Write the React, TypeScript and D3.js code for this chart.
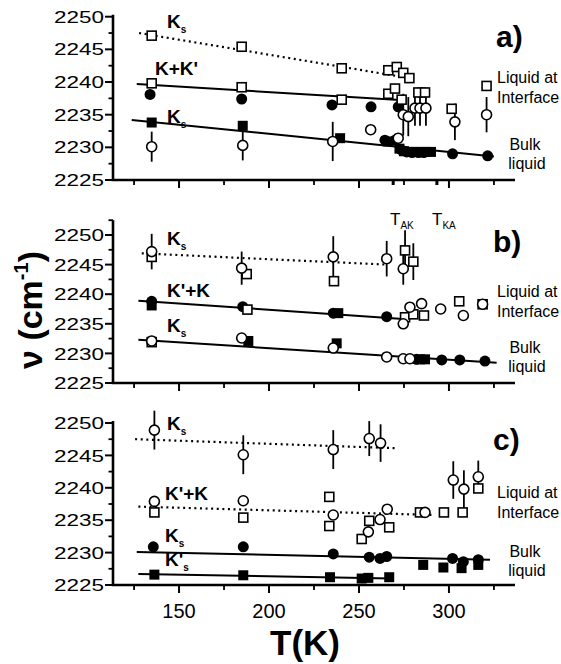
import React from 'react';
import * as d3 from 'd3';

type Pt = [number, number, number?];
type Fit = [number, number, number, number, number];

// ---------- axis ticks ----------
const xMajor = [150, 200, 250, 300];
const xMinor = [125, 175, 225, 275, 325];
const yMajor = [2225, 2230, 2235, 2240, 2245, 2250];
const yMinor = [2227.5, 2232.5, 2237.5, 2242.5, 2247.5];
const aMarkTicks = [269, 293.3];

// ---------- panel a ----------
const aOpenSquares: Pt[] = [
  [134.8, 2247.1], [184.8, 2245.4], [240.4, 2242.1], [266.3, 2241.8], [271, 2242.3], [274.6, 2241.4], [278, 2240.6],
  [134.8, 2239.8], [184.8, 2239.2], [240.4, 2237.3], [266.3, 2238.2], [270, 2239.0], [273.7, 2237.3],
  [283, 2238.4, 0.8], [286.7, 2238.4, 0.8], [301.5, 2235.9, 0.6], [320.9, 2239.4, 0.6],
];
const aOpenCircles: Pt[] = [
  [134.8, 2230.1, 2.3], [185.4, 2230.3, 2.3], [235.4, 2230.9, 3], [256.5, 2232.7], [271.8, 2231.4],
  [274.6, 2235.0, 3.2], [277.4, 2234.7, 3], [281.1, 2236.0, 2.7], [283.9, 2236.0, 2.7], [287.2, 2236.0, 2.7],
  [303.3, 2233.9, 2.8], [320.9, 2235.0, 2.7],
];
const aFilledCircles: Pt[] = [
  [133.9, 2238.1], [184.8, 2237.4], [235, 2236.5], [256.7, 2236.2], [271.8, 2236.2],
  [264.4, 2231.1], [270, 2231.1], [273.5, 2229.6], [276.5, 2229.3], [279.5, 2229.2], [283, 2229.2], [286, 2229.2],
  [302, 2229.0], [321.5, 2228.7],
];
const aFilledSquares: Pt[] = [
  [134.8, 2233.8], [185.4, 2233.3], [239.5, 2231.4], [266, 2230.9], [272.5, 2229.8], [275, 2229.4],
  [278, 2229.3], [281, 2229.3], [284, 2229.3], [287, 2229.3], [290, 2229.3],
];
const aFits: Fit[] = [
  [127.8, 2247.5, 278, 2240.6, 1],
  [126.5, 2239.7, 275, 2237.2, 0],
  [123.7, 2234.2, 325, 2228.6, 0],
];

// ---------- panel b ----------
const bOpenCircles: Pt[] = [
  [134.8, 2247.2, 3], [184.8, 2244.4, 2.8], [235.7, 2246.3, 3.5], [265.4, 2246.0, 3], [274.6, 2244.3, 2.7],
  [134.8, 2232.1], [184.8, 2232.6], [235.7, 2230.9], [265.4, 2229.4], [274.6, 2229.1], [278.3, 2229.1],
  [274.6, 2235.0], [278.3, 2237.8], [284.8, 2238.4], [295.4, 2237.5], [308, 2236.4], [318.7, 2238.3],
];
const bOpenSquares: Pt[] = [
  [134.8, 2246.3], [187.6, 2243.4], [236.1, 2242.2], [275.6, 2247.4, 3.4], [280.2, 2245.5, 3.1],
  [188, 2237.4], [275.6, 2236.1], [280.2, 2236.6], [286.1, 2236.4], [305.7, 2238.8], [318.7, 2238.3],
  [134.8, 2231.9],
];
const bFilledCircles: Pt[] = [
  [134.8, 2238.8], [185.4, 2237.9], [235.7, 2236.8], [265.4, 2236.2],
  [282, 2229.0], [296, 2228.9], [306, 2228.9], [320, 2228.7],
];
const bFilledSquares: Pt[] = [
  [134.8, 2238.1], [238.5, 2236.8], [188.5, 2232.1], [237.6, 2231.7], [284, 2229.0], [286.7, 2229.0],
];
const bFits: Fit[] = [
  [129.3, 2246.9, 265, 2245.0, 1],
  [127.4, 2238.9, 274.6, 2235.8, 0],
  [127.4, 2232.3, 326.5, 2228.4, 0],
];

// ---------- panel c ----------
const cOpenCircles: Pt[] = [
  [136.3, 2248.9, 3], [185.7, 2245.1, 3], [235.7, 2245.9, 3], [255.7, 2247.6, 2.7], [262, 2246.9, 2.9],
  [136.3, 2237.9], [185.7, 2238.0], [235.7, 2235.8], [255.2, 2233.2], [261.7, 2235.1], [265.7, 2236.7],
  [286.7, 2236.2], [302.4, 2241.2, 2.9], [308.3, 2239.8, 2.9], [316.3, 2241.7, 2.5],
];
const cOpenSquares: Pt[] = [
  [136.3, 2236.2], [185.7, 2235.4], [233.5, 2238.6], [233.5, 2234.1], [251.5, 2232.1], [255.7, 2234.9],
  [266.8, 2233.9], [283.9, 2236.2], [297.2, 2236.2], [307.6, 2236.2], [316.3, 2239.9],
];
const cFilledCircles: Pt[] = [
  [135.7, 2230.9], [185.7, 2230.9], [235.7, 2229.8], [255.7, 2229.3], [261.7, 2229.1], [265.4, 2229.4],
  [302, 2229.1], [308, 2228.6], [316.3, 2228.9],
];
const cFilledSquares: Pt[] = [
  [136.3, 2226.6], [185.7, 2226.5], [233.9, 2226.2], [251.5, 2226.0], [255.2, 2226.1], [266.8, 2226.2],
  [285.7, 2228.1], [296.9, 2227.7], [307, 2227.6], [316.3, 2228.1],
];
const cFits: Fit[] = [
  [125.6, 2247.5, 271.8, 2246.1, 1],
  [127.4, 2237.1, 292.2, 2235.8, 1],
  [126.5, 2230.1, 322.8, 2228.9, 0],
  [127.4, 2226.7, 268, 2226.0, 0],
];

const FONT = '"Liberation Sans", Arial, Helvetica, sans-serif';
const x = d3.scaleLinear().domain([113.3, 336.7]).range([113, 515]);

type PanelProps = {
  yBot: number; yTop: number; axisTopV: number; showXLabels: boolean; markTicks?: number[];
  openCircles: Pt[]; openSquares: Pt[]; filledCircles: Pt[]; filledSquares: Pt[]; fits: Fit[];
};

function Panel(p: PanelProps) {
  const y = d3.scaleLinear().domain([2225, 2250]).range([p.yBot, p.yTop]);
  const line = d3.line<[number, number]>().x(d => x(d[0])).y(d => y(d[1]));
  const errs = [...p.openCircles, ...p.openSquares, ...p.filledCircles, ...p.filledSquares].filter(d => d[2]);
  const x0 = x.range()[0];
  const minorY = p.axisTopV > 2251 ? [...yMinor, 2252.5] : yMinor;
  return (
    <g>
      {p.fits.map((f, i) => (
        <path key={'f' + i} d={line([[f[0], f[1]], [f[2], f[3]]]) || ''} stroke="#000"
          strokeWidth={f[4] ? 2.2 : 2} strokeDasharray={f[4] ? '2,3.6' : undefined} fill="none" />
      ))}
      {errs.map((d, i) => (
        <line key={'e' + i} x1={x(d[0])} x2={x(d[0])} y1={y(d[1] - (d[2] as number))} y2={y(d[1] + (d[2] as number))}
          stroke="#000" strokeWidth={1.8} />
      ))}
      {p.filledSquares.map((d, i) => (
        <rect key={'fs' + i} x={x(d[0]) - 5} y={y(d[1]) - 5} width={10} height={10} fill="#000" />
      ))}
      {p.filledCircles.map((d, i) => (
        <circle key={'fc' + i} cx={x(d[0])} cy={y(d[1])} r={5.5} fill="#000" />
      ))}
      {p.openSquares.map((d, i) => (
        <rect key={'os' + i} x={x(d[0]) - 4.5} y={y(d[1]) - 4.5} width={9} height={9} fill="#fff" stroke="#000" strokeWidth={1.6} />
      ))}
      {p.openCircles.map((d, i) => (
        <circle key={'oc' + i} cx={x(d[0])} cy={y(d[1])} r={5} fill="#fff" stroke="#000" strokeWidth={1.6} />
      ))}
      {/* axes */}
      <line x1={x0} x2={x0} y1={y(p.axisTopV)} y2={y(2225)} stroke="#000" strokeWidth={2.6} />
      <line x1={x0 - 1.3} x2={x.range()[1]} y1={y(2225)} y2={y(2225)} stroke="#000" strokeWidth={2.6} />
      {yMajor.map(v => (
        <g key={'ym' + v}>
          <line x1={x0 - 8} x2={x0} y1={y(v)} y2={y(v)} stroke="#000" strokeWidth={2} />
          <text x={104} y={y(v)} dy="0.36em" textAnchor="end" fontSize={17} fontFamily={FONT}
            textLength={50} lengthAdjust="spacingAndGlyphs">{v}</text>
        </g>
      ))}
      {minorY.map(v => (
        <line key={'yn' + v} x1={x0 - 4.5} x2={x0} y1={y(v)} y2={y(v)} stroke="#000" strokeWidth={1.8} />
      ))}
      {xMajor.map(t => (
        <g key={'xm' + t}>
          <line x1={x(t)} x2={x(t)} y1={y(2225)} y2={y(2225) + 8} stroke="#000" strokeWidth={2} />
          {p.showXLabels && (
            <text x={x(t)} y={y(2225) + 33} textAnchor="middle" fontSize={20} fontFamily={FONT}>{t}</text>
          )}
        </g>
      ))}
      {xMinor.map(t => (
        <line key={'xn' + t} x1={x(t)} x2={x(t)} y1={y(2225)} y2={y(2225) + 5} stroke="#000" strokeWidth={1.8} />
      ))}
      {(p.markTicks || []).map(t => (
        <line key={'mk' + t} x1={x(t)} x2={x(t)} y1={y(2225)} y2={y(2225) + 5} stroke="#000" strokeWidth={3} />
      ))}
    </g>
  );
}

function K({ x: px, y: py, main, sub }: { x: number; y: number; main: string; sub?: string }) {
  return (
    <text x={px} y={py} fontSize={19} fontWeight="bold" fontFamily={FONT}>
      {main}
      {sub && <tspan fontSize={10} dy={5}>{sub}</tspan>}
    </text>
  );
}

function Side({ top, bulk }: { top: number; bulk: number }) {
  return (
    <g fontFamily={FONT} fontSize={16}>
      <text x={497} y={top}>Liquid at</text>
      <text x={497} y={top + 20}>Interface</text>
      <text x={525} y={bulk} textAnchor="middle">Bulk</text>
      <text x={527} y={bulk + 19} textAnchor="middle">liquid</text>
    </g>
  );
}

export default function App() {
  return (
    <svg width={561} height={664} style={{ position: 'absolute', left: 0, top: 0, background: '#fff' }}>
      <rect width={561} height={664} fill="#fff" />
      <Panel yBot={180} yTop={16.7} axisTopV={2250.3} showXLabels={false} markTicks={aMarkTicks}
        openCircles={aOpenCircles} openSquares={aOpenSquares} filledCircles={aFilledCircles}
        filledSquares={aFilledSquares} fits={aFits} />
      <Panel yBot={383} yTop={235} axisTopV={2252.5} showXLabels={false}
        openCircles={bOpenCircles} openSquares={bOpenSquares} filledCircles={bFilledCircles}
        filledSquares={bFilledSquares} fits={bFits} />
      <Panel yBot={585} yTop={423} axisTopV={2250.3} showXLabels={true}
        openCircles={cOpenCircles} openSquares={cOpenSquares} filledCircles={cFilledCircles}
        filledSquares={cFilledSquares} fits={cFits} />

      {/* panel a annotations */}
      <K x={167} y={28} main="K" sub="s" />
      <K x={155} y={75} main="K+K'" />
      <K x={167} y={123} main="K" sub="s" />
      <text x={496} y={47} fontSize={30} fontWeight="bold" fontFamily={FONT}>a)</text>
      <Side top={83} bulk={150} />

      {/* panel b annotations */}
      <K x={167} y={245} main="K" sub="s" />
      <K x={167} y={297} main="K'+K" />
      <K x={167} y={332} main="K" sub="s" />
      <text x={493} y={252} fontSize={30} fontWeight="bold" fontFamily={FONT}>b)</text>
      <text x={390} y={225} fontSize={17} fontFamily={FONT}>T<tspan fontSize={10} dy={4}>AK</tspan></text>
      <text x={432} y={225} fontSize={17} fontFamily={FONT}>T<tspan fontSize={10} dy={4}>KA</tspan></text>
      <Side top={297} bulk={353} />

      {/* panel c annotations */}
      <K x={167} y={430} main="K" sub="s" />
      <K x={165} y={500} main="K'+K" />
      <K x={165} y={542} main="K" sub="s" />
      <K x={165} y={566} main="K'" sub="s" />
      <text x={493} y={450} fontSize={30} fontWeight="bold" fontFamily={FONT}>c)</text>
      <Side top={498} bulk={557} />

      {/* axis titles */}
      <text transform="translate(42,310) rotate(-90)" textAnchor="middle" fontSize={34} fontWeight="bold" fontFamily={FONT}>
        ν (cm<tspan fontSize={20} dy={-14}>-1</tspan><tspan dy={14}>)</tspan>
      </text>
      <text x={305} y={655} textAnchor="middle" fontSize={35} fontWeight="bold" fontFamily={FONT}>T(K)</text>
    </svg>
  );
}
